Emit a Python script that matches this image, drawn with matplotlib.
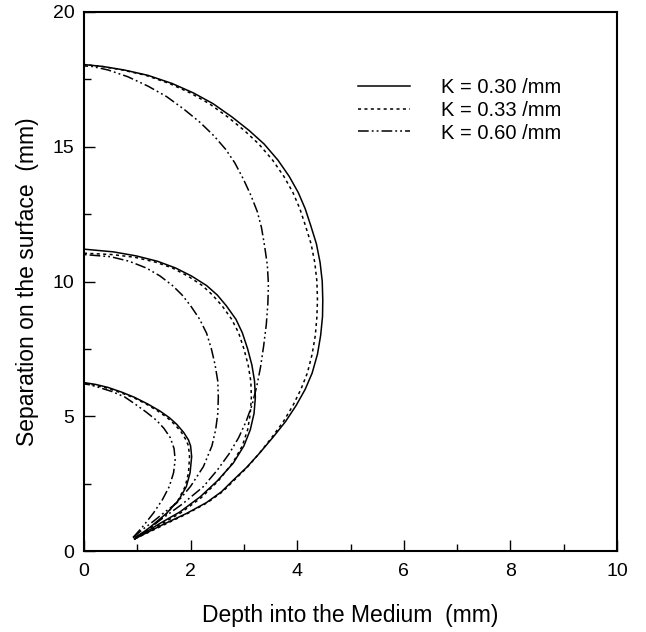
import matplotlib
matplotlib.use("Agg")
import matplotlib.pyplot as plt
from matplotlib.ticker import MultipleLocator

plt.rcParams['font.family'] = ['Liberation Sans', 'DejaVu Sans']

# curves: (depth, separation) from the common start point up to the surface
k_labels = ["K = 0.30 /mm", "K = 0.33 /mm", "K = 0.60 /mm"]

# outer group (separation ~18 mm)
outer_030_y = [0.45, 0.7, 1.0, 1.4, 1.8, 2.2, 2.63, 3.1, 3.6, 4.23, 4.8, 5.4, 6.0, 6.6, 7.3, 8.0, 8.7, 9.3, 10.0, 10.7, 11.4, 12.1, 12.7, 13.3, 13.9, 14.5, 15.1, 15.6, 16.1, 16.6, 17.0, 17.35, 17.65, 17.85, 17.98, 18.05]
outer_030_x = [0.95, 1.2, 1.5, 1.93, 2.3, 2.58, 2.80, 3.05, 3.28, 3.55, 3.78, 3.98, 4.15, 4.28, 4.38, 4.44, 4.475, 4.48, 4.47, 4.43, 4.36, 4.25, 4.15, 4.02, 3.85, 3.64, 3.38, 3.10, 2.78, 2.42, 2.05, 1.65, 1.2, 0.75, 0.35, 0.0]
outer_033_y = [0.45, 0.7, 1.0, 1.4, 1.8, 2.2, 2.63, 3.1, 3.6, 4.23, 4.8, 5.4, 6.0, 6.6, 7.3, 8.0, 8.7, 9.3, 10.0, 10.7, 11.4, 12.1, 12.7, 13.3, 13.9, 14.5, 15.1, 15.6, 16.1, 16.6, 17.0, 17.35, 17.65, 17.85, 17.98, 18.05]
outer_033_x = [0.95, 1.22, 1.53, 1.95, 2.32, 2.6, 2.82, 3.06, 3.28, 3.53, 3.74, 3.92, 4.07, 4.19, 4.28, 4.34, 4.37, 4.38, 4.37, 4.33, 4.26, 4.15, 4.05, 3.92, 3.75, 3.54, 3.28, 3.01, 2.70, 2.35, 1.99, 1.6, 1.16, 0.72, 0.33, 0.0]
outer_060_y = [0.5, 0.8, 1.15, 1.75, 2.39, 3.0, 3.6, 4.2, 4.8, 5.4, 6.1, 6.8, 7.6, 8.4, 9.2, 9.9, 10.6, 11.3, 12.0, 12.6, 13.2, 13.8, 14.4, 14.9, 15.4, 15.9, 16.4, 16.86, 17.25, 17.6, 17.85, 17.98, 18.0]
outer_060_x = [0.95, 1.2, 1.43, 1.85, 2.24, 2.5, 2.72, 2.9, 3.04, 3.15, 3.24, 3.31, 3.37, 3.42, 3.45, 3.46, 3.44, 3.39, 3.33, 3.25, 3.13, 2.99, 2.83, 2.66, 2.44, 2.18, 1.87, 1.55, 1.2, 0.82, 0.45, 0.15, 0.0]

# middle group (separation ~11 mm)
mid_030_y = [0.45, 0.75, 1.03, 1.45, 2.01, 2.6, 3.26, 3.9, 4.5, 5.1, 5.7, 6.3, 6.9, 7.5, 8.1, 8.6, 9.1, 9.5, 9.85, 10.2, 10.5, 10.75, 10.95, 11.1, 11.2]
mid_030_x = [0.95, 1.2, 1.43, 1.8, 2.18, 2.5, 2.80, 3.0, 3.12, 3.19, 3.215, 3.20, 3.15, 3.07, 2.97, 2.85, 2.67, 2.5, 2.3, 2.02, 1.72, 1.38, 0.98, 0.55, 0.0]
mid_033_y = [0.45, 0.75, 1.0, 1.42, 1.98, 2.6, 3.3, 3.9, 4.5, 5.1, 5.7, 6.3, 6.9, 7.5, 8.1, 8.6, 9.1, 9.5, 9.85, 10.2, 10.5, 10.72, 10.9, 11.0, 11.05]
mid_033_x = [0.95, 1.21, 1.45, 1.82, 2.2, 2.52, 2.8, 2.97, 3.07, 3.12, 3.14, 3.13, 3.08, 3.0, 2.9, 2.77, 2.59, 2.41, 2.22, 1.95, 1.66, 1.34, 0.95, 0.52, 0.0]
mid_060_y = [0.5, 0.8, 1.1, 1.45, 1.78, 2.4, 3.13, 3.9, 4.5, 5.1, 5.7, 6.3, 6.9, 7.5, 8.08, 8.6, 9.1, 9.5, 9.85, 10.2, 10.5, 10.75, 10.92, 11.0]
mid_060_x = [0.92, 1.1, 1.3, 1.52, 1.74, 2.0, 2.24, 2.4, 2.47, 2.51, 2.52, 2.51, 2.46, 2.39, 2.30, 2.17, 2.0, 1.84, 1.66, 1.43, 1.17, 0.85, 0.5, 0.0]

# inner group (separation ~6 mm)
inner_030_y = [0.45, 0.9, 1.4, 1.9, 2.39, 2.9, 3.5, 3.9, 4.12, 4.4, 4.7, 4.95, 5.2, 5.45, 5.7, 5.9, 6.07, 6.18, 6.25]
inner_030_x = [0.95, 1.25, 1.55, 1.78, 1.92, 1.99, 2.02, 2.0, 1.96, 1.87, 1.74, 1.6, 1.42, 1.2, 0.95, 0.7, 0.45, 0.22, 0.0]
inner_033_y = [0.45, 0.9, 1.38, 1.9, 2.4, 2.9, 3.5, 3.9, 4.1, 4.4, 4.7, 4.95, 5.2, 5.45, 5.7, 5.88, 6.04, 6.15, 6.22]
inner_033_x = [0.95, 1.27, 1.55, 1.77, 1.9, 1.96, 1.98, 1.96, 1.92, 1.83, 1.70, 1.56, 1.38, 1.17, 0.92, 0.68, 0.44, 0.21, 0.0]
inner_060_y = [0.5, 0.9, 1.4, 1.9, 2.39, 2.9, 3.38, 3.8, 4.2, 4.55, 4.85, 5.15, 5.45, 5.72, 5.92, 6.07, 6.17, 6.2]
inner_060_x = [0.92, 1.1, 1.3, 1.47, 1.6, 1.68, 1.71, 1.69, 1.62, 1.5, 1.36, 1.17, 0.96, 0.76, 0.52, 0.28, 0.1, 0.0]

styles = ['-', (0, (2, 2.2)), (0, (7, 2, 1.2, 2, 1.2, 2))]

fig = plt.figure(figsize=(6.46, 6.32), dpi=100)
ax = fig.add_axes([84/646, 1 - 551/632, 533/646, 539/632])

groups = [
    [(outer_030_x, outer_030_y), (outer_033_x, outer_033_y), (outer_060_x, outer_060_y)],
    [(mid_030_x, mid_030_y), (mid_033_x, mid_033_y), (mid_060_x, mid_060_y)],
    [(inner_030_x, inner_030_y), (inner_033_x, inner_033_y), (inner_060_x, inner_060_y)],
]
for gi, grp in enumerate(groups):
    for ki, (xs, ys) in enumerate(grp):
        ax.plot(xs, ys, color='black', lw=1.1, linestyle=styles[ki],
                label=k_labels[ki] if gi == 0 else None)

ax.set_xlim(0, 10)
ax.set_ylim(0, 20)
ax.xaxis.set_major_locator(MultipleLocator(2))
ax.xaxis.set_minor_locator(MultipleLocator(1))
ax.yaxis.set_major_locator(MultipleLocator(5))
ax.yaxis.set_minor_locator(MultipleLocator(2.5))
ax.tick_params(which='both', direction='in', width=1.0, labelsize=14)
ax.tick_params(which='major', length=8)
ax.tick_params(which='minor', length=5)
ax.tick_params(axis='x', pad=9)
ax.tick_params(axis='y', pad=7)
for sp in ax.spines.values():
    sp.set_linewidth(1.5)

ax.set_xlabel("Depth into the Medium  (mm)", fontsize=16.5, labelpad=17)
ax.set_ylabel("Separation on the surface  (mm)", fontsize=16.5, labelpad=10)

ax.legend(loc='upper left', bbox_to_anchor=(0.514, 0.877), frameon=False,
          fontsize=14.5, handlelength=2.6, handletextpad=1.5, labelspacing=0.18,
          borderpad=0, borderaxespad=0)

fig.savefig("out.png", dpi=100)
